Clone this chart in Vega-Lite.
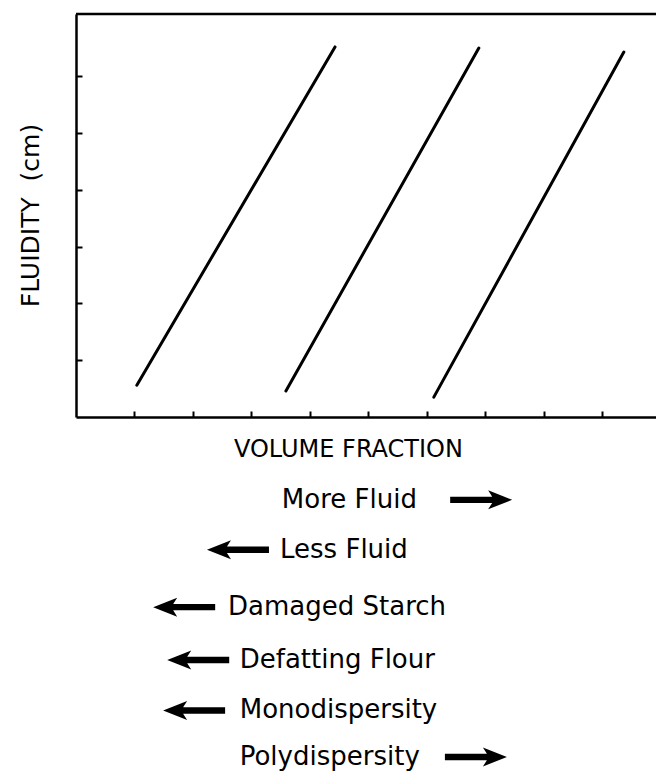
{
  "$schema": "https://vega.github.io/schema/vega-lite/v6.json",
  "autosize": "none",
  "padding": {"left": 76, "top": 14, "right": 0, "bottom": 360},
  "width": 580,
  "height": 403,
  "background": "white",
  "config": {"view": {"stroke": null}},
  "datasets": {
    "lines": [
      {"series": "A", "volume_fraction": 1.04, "fluidity": 0.56},
      {"series": "A", "volume_fraction": 4.43, "fluidity": 6.52},
      {"series": "B", "volume_fraction": 3.59, "fluidity": 0.46},
      {"series": "B", "volume_fraction": 6.89, "fluidity": 6.50},
      {"series": "C", "volume_fraction": 6.12, "fluidity": 0.35},
      {"series": "C", "volume_fraction": 9.37, "fluidity": 6.43}
    ],
    "frame": [
      {"fluidity": 7.1}
    ],
    "title": [
      {"label": "VOLUME FRACTION", "volume_fraction": 4.66, "fluidity": -0.58}
    ],
    "labels": [
      {"label": "More Fluid", "volume_fraction": 3.52, "fluidity": -1.46},
      {"label": "Less Fluid", "volume_fraction": 3.49, "fluidity": -2.34},
      {"label": "Damaged Starch", "volume_fraction": 2.60, "fluidity": -3.35},
      {"label": "Defatting Flour", "volume_fraction": 2.80, "fluidity": -4.28},
      {"label": "Monodispersity", "volume_fraction": 2.80, "fluidity": -5.17},
      {"label": "Polydispersity", "volume_fraction": 2.80, "fluidity": -5.99}
    ],
    "arrows": [
      {"direction": "right", "volume_fraction": 7.46, "fluidity": -1.46},
      {"direction": "left", "volume_fraction": 2.24, "fluidity": -2.34},
      {"direction": "left", "volume_fraction": 1.32, "fluidity": -3.35},
      {"direction": "left", "volume_fraction": 1.56, "fluidity": -4.28},
      {"direction": "left", "volume_fraction": 1.49, "fluidity": -5.17},
      {"direction": "right", "volume_fraction": 7.37, "fluidity": -5.99}
    ]
  },
  "layer": [
    {
      "data": {"name": "lines"},
      "mark": {"type": "line", "color": "black", "strokeWidth": 3, "strokeCap": "round"},
      "encoding": {
        "x": {
          "field": "volume_fraction", "type": "quantitative",
          "scale": {"domain": [0, 9.92], "nice": false, "zero": false},
          "axis": {
            "orient": "bottom", "values": [1, 2, 3, 4, 5, 6, 7, 8, 9],
            "labels": false, "title": null, "grid": false,
            "tickSize": -6, "tickWidth": 2, "tickColor": "black",
            "domainColor": "black", "domainWidth": 2.5
          }
        },
        "y": {
          "field": "fluidity", "type": "quantitative",
          "scale": {"domain": [0, 7.1], "nice": false, "zero": false},
          "axis": {
            "values": [1, 2, 3, 4, 5, 6], "labels": false, "grid": false,
            "tickSize": -6, "tickWidth": 2, "tickColor": "black",
            "domainColor": "black", "domainWidth": 2.5,
            "title": "FLUIDITY\u00a0\u00a0(cm)",
            "titleFont": "DejaVu Sans", "titleFontSize": 25, "titleFontWeight": "normal",
            "titleColor": "black", "titleAngle": -90, "titleAlign": "center",
            "titleBaseline": "middle", "titleX": -46, "titleY": 201
          }
        },
        "detail": {"field": "series", "type": "nominal"}
      }
    },
    {
      "data": {"name": "frame"},
      "mark": {"type": "rule", "color": "black", "strokeWidth": 2.5},
      "encoding": {"y": {"field": "fluidity", "type": "quantitative"}}
    },
    {
      "data": {"name": "title"},
      "mark": {"type": "text", "font": "DejaVu Sans", "fontSize": 24, "align": "center", "baseline": "middle", "color": "black"},
      "encoding": {
        "x": {"field": "volume_fraction", "type": "quantitative"},
        "y": {"field": "fluidity", "type": "quantitative"},
        "text": {"field": "label"}
      }
    },
    {
      "data": {"name": "labels"},
      "mark": {"type": "text", "font": "DejaVu Sans", "fontSize": 26, "align": "left", "baseline": "middle", "color": "black"},
      "encoding": {
        "x": {"field": "volume_fraction", "type": "quantitative"},
        "y": {"field": "fluidity", "type": "quantitative"},
        "text": {"field": "label"}
      }
    },
    {
      "data": {"name": "arrows"},
      "mark": {"type": "point", "filled": true, "opacity": 1, "color": "black", "strokeWidth": 0},
      "encoding": {
        "x": {"field": "volume_fraction", "type": "quantitative"},
        "y": {"field": "fluidity", "type": "quantitative"},
        "shape": {
          "field": "direction", "type": "nominal",
          "scale": {
            "domain": ["right", "left"],
            "range": [
              "M0,0 L-2.4,-0.95 L-2.0,-0.32 L-6.2,-0.32 L-6.2,0.32 L-2.0,0.32 L-2.4,0.95 Z",
              "M0,0 L2.4,-0.95 L2.0,-0.32 L6.2,-0.32 L6.2,0.32 L2.0,0.32 L2.4,0.95 Z"
            ]
          },
          "legend": null
        },
        "size": {"value": 400}
      }
    }
  ]
}
